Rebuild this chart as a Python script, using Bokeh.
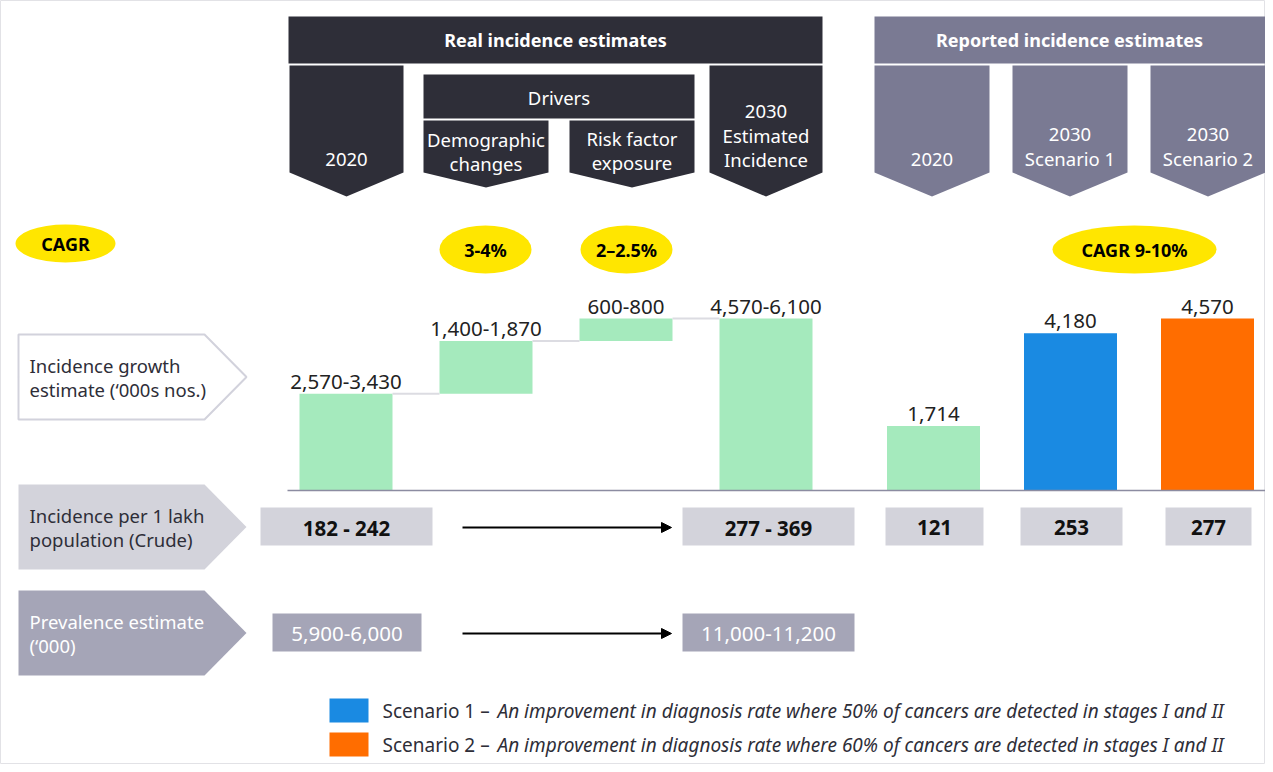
from bokeh.plotting import figure
from bokeh.models import Range1d, Arrow, NormalHead
from bokeh.embed import file_html
from bokeh.resources import INLINE
from bokeh.core.properties import value

# ---------------- data ----------------
header_labels = ["Real incidence estimates", "Reported incidence estimates"]
stage_labels = ["2020", "Demographic\nchanges", "Risk factor\nexposure",
                "2030\nEstimated\nIncidence", "2020", "2030\nScenario 1", "2030\nScenario 2"]
drivers_label = "Drivers"
cagr_labels = ["CAGR", "3-4%", "2–2.5%", "CAGR 9-10%"]

bar_values = [2570, 1400, 600, 4570, 1714, 4180, 4570]
bar_kinds = ["start", "step", "step", "total", "bar", "bar", "bar"]
bar_labels = ["2,570-3,430", "1,400-1,870", "600-800", "4,570-6,100", "1,714", "4,180", "4,570"]

row_labels = ["Incidence growth\nestimate (‘000s nos.)",
              "Incidence per 1 lakh\npopulation (Crude)",
              "Prevalence estimate\n(‘000)"]
lakh_labels = ["182 - 242", "277 - 369", "121", "253", "277"]
prevalence_labels = ["5,900-6,000", "11,000-11,200"]

legend_names = ["Scenario 1 – ", "Scenario 2 – "]
legend_desc = ["An improvement in diagnosis rate where 50% of cancers are detected in stages I and II",
               "An improvement in diagnosis rate where 60% of cancers are detected in stages I and II"]

# ---------------- style / layout ----------------
FONT = "Noto Sans"
DARK = "#2e2e38"
PURPLE = "#7a7a93"
YELLOW = "#ffe600"
GREEN = "#a5eabd"
BLUE = "#1a8ae2"
ORANGE = "#ff6d00"
LIGHT = "#d3d3db"
MID = "#a5a5b7"
bar_colors = [GREEN, GREEN, GREEN, GREEN, GREEN, BLUE, ORANGE]

bar_x = [353.5, 493.5, 633.5, 773.5, 941, 1078, 1215]
BAR_W = 93
BASE_PX = 498
K = 4570 / 172.0  # data units per pixel

p = figure(width=1265, height=764, x_range=Range1d(8, 1273),
           y_range=Range1d(-(772 - BASE_PX) * K, (BASE_PX - 8) * K),
           output_backend="svg", toolbar_location=None, min_border=0,
           x_axis_location=None, y_axis_location=None)
p.grid.visible = False
p.outline_line_color = "#e2e2e6"
p.extra_y_ranges = {"px": Range1d(772, 8)}
PX = "px"

def txt(x, y, t, size="18px", color=DARK, align="center", style="normal", baseline="middle"):
    p.text(x=[x], y=[y], text=[t], text_align=align, text_baseline=baseline,
           text_font=value(FONT), text_font_size=size, text_color=color,
           text_font_style=style, y_range_name=PX)

# headers
header_boxes = [(296, 830, 24, 71, DARK), (882, 1273, 24, 71, PURPLE)]
header_text_x = [563, 1077]
for (x0, x1, y0, y1, c), lab, tx in zip(header_boxes, header_labels, header_text_x):
    p.quad(left=[x0], right=[x1], top=[y0], bottom=[y1], fill_color=c, line_color=None, y_range_name=PX)
    txt(tx, (y0 + y1) / 2, lab, size="18px", color="white", style="bold")

# drivers box
p.quad(left=[431], right=[702], top=[82], bottom=[126], fill_color=DARK, line_color=None, y_range_name=PX)
txt(566.5, 105, drivers_label, size="18.5px", color="white")

# chevrons
chev = [(297, 411, 73, 180, 204, DARK, 167), (431, 556, 128, 180, 195, DARK, 171),
        (577, 702, 128, 180, 195, DARK, 170), (717, 830, 73, 180, 204, DARK, 167),
        (882, 997, 73, 180, 204, PURPLE, 167), (1020, 1135, 73, 180, 204, PURPLE, 166),
        (1158, 1273, 73, 180, 204, PURPLE, 166)]
xs, ys, cs = [], [], []
for (x0, x1, yt, ysd, ytip, c, ylast), lab in zip(chev, stage_labels):
    xc = (x0 + x1) / 2
    xs.append([x0, x1, x1, xc, x0])
    ys.append([yt, yt, ysd, ytip, ysd])
    cs.append(c)
p.patches(xs=xs, ys=ys, fill_color=cs, line_color=None, y_range_name=PX)
for (x0, x1, yt, ysd, ytip, c, ylast), lab in zip(chev, stage_labels):
    lines = lab.split("\n")
    n = len(lines)
    for i, ln in enumerate(lines):
        txt((x0 + x1) / 2, ylast - (n - 1 - i) * 24, ln, size="18.5px", color="white")

# CAGR ellipses
ell = [(73, 251, 100, 38), (493, 257, 92, 48), (634, 257, 92, 48), (1142, 257, 164, 48)]
p.ellipse(x=[e[0] for e in ell], y=[e[1] for e in ell], width=[e[2] for e in ell],
          height=[e[3] for e in ell], fill_color=YELLOW, line_color=None, y_range_name=PX)
for (x, y, w, h), lab in zip(ell, cagr_labels):
    txt(x, y, lab, size="18px", color="black", style="bold")

# left row pentagons
rows = [(342, 427, "white", "#d2d2dc", DARK), (492, 577, LIGHT, None, DARK), (598, 683, MID, None, "white")]
for (y0, y1, fc, lc, tc), lab in zip(rows, row_labels):
    ym = (y0 + y1) / 2
    p.patch(x=[26, 212, 254, 212, 26], y=[y0, y0, ym, y1, y1], fill_color=fc,
            line_color=lc if lc else None, line_width=2, y_range_name=PX)
    for i, ln in enumerate(lab.split("\n")):
        txt(37, y0 + 31 + 24 * i, ln, size="18.5px", color=tc, align="left")

# bars (data units)
bottoms, tops = [], []
run = 0
for v, k in zip(bar_values, bar_kinds):
    if k == "step":
        b = run
        run += v
    elif k == "start":
        b = 0
        run = v
    else:
        b = 0
    bottoms.append(b)
    tops.append(b + v)
p.vbar(x=bar_x, width=BAR_W, bottom=bottoms, top=tops, fill_color=bar_colors, line_color=None)

# connectors
for i in range(3):
    p.segment(x0=[bar_x[i] + BAR_W / 2], y0=[tops[i]], x1=[bar_x[i + 1] - BAR_W / 2], y1=[tops[i]],
              line_color="#dcdce2", line_width=2)

# baseline
p.segment(x0=[295], y0=[0], x1=[1273], y1=[0], line_color="#8c8ca1", line_width=1.5)

# bar labels
p.text(x=bar_x, y=tops, text=bar_labels, text_align="center", text_baseline="bottom", y_offset=-5,
       text_font=value(FONT), text_font_size="20.5px", text_color="#222222")

# per lakh boxes
lakh_box = [(354, 172), (776, 172), (942, 98), (1079, 102), (1216, 86)]
p.rect(x=[b[0] for b in lakh_box], y=[534] * 5, width=[b[1] for b in lakh_box], height=[38] * 5,
       fill_color=LIGHT, line_color=None, y_range_name=PX)
for (x, w), lab in zip(lakh_box, lakh_labels):
    txt(x, 535, lab, size="20.5px", color="#111111", style="bold")

# prevalence boxes
prev_box = [(354.5, 149), (776, 172)]
p.rect(x=[b[0] for b in prev_box], y=[640] * 2, width=[b[1] for b in prev_box], height=[38] * 2,
       fill_color=MID, line_color=None, y_range_name=PX)
for (x, w), lab in zip(prev_box, prevalence_labels):
    txt(x, 641, lab, size="20.5px", color="white")

# arrows
for ya in [535, 641]:
    p.add_layout(Arrow(end=NormalHead(size=10, fill_color="black", line_color="black"),
                       x_start=470, y_start=ya, x_end=679, y_end=ya,
                       line_width=2, line_color="black", y_range_name=PX))

# legend
leg = [(718, BLUE), (752, ORANGE)]
for (y, c), nm, desc in zip(leg, legend_names, legend_desc):
    p.rect(x=[356.5], y=[y], width=[39], height=[24], fill_color=c, line_color=None, y_range_name=PX)
    txt(390, y, nm, size="19px", color=DARK, align="left")
    txt(505, y, desc, size="19px", color=DARK, align="left", style="italic")

open("out.html", "w").write(file_html(p, INLINE))
